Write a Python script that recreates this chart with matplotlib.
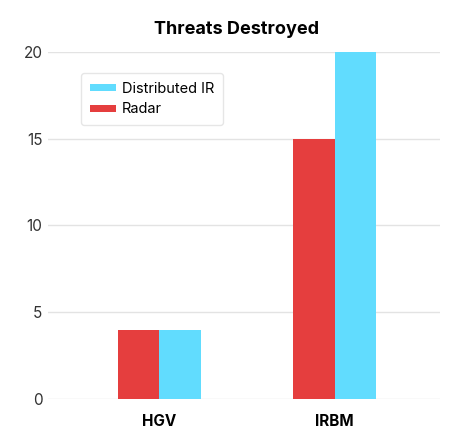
import numpy as np
import matplotlib.pyplot as plt

plt.rcParams['font.family'] = ['Inter', 'DejaVu Sans']

categories = ["HGV", "IRBM"]
radar = [4, 15]
distributed_ir = [4, 20]

red = "#e53e3e"
cyan = "#61dcfe"

fig = plt.figure(figsize=(4.53, 4.34), dpi=100)
ax = fig.add_axes([0.106, 0.0806, 0.865, 0.80])

x = np.arange(len(categories))
w = 0.236
b_radar = ax.bar(x - w / 2, radar, w, color=red, label="Radar", zorder=3)
b_ir = ax.bar(x + w / 2, distributed_ir, w, color=cyan, label="Distributed IR", zorder=3)

ax.set_xlim(-0.635, 1.6)
ax.set_ylim(0, 20)
ax.set_yticks([0, 5, 10, 15, 20])
ax.set_xticks(x)
ax.set_xticklabels(categories, fontweight="bold", fontsize=11)
ax.tick_params(axis="y", length=0, pad=4, labelsize=11, labelcolor="#333333")
ax.tick_params(axis="x", length=0, pad=11)
ax.yaxis.grid(True, color="#e3e3e3", linewidth=1, zorder=0)
for s in ax.spines.values():
    s.set_visible(False)

ax.set_title("Threats Destroyed", fontweight="bold", fontsize=13, pad=13, x=0.48)

ax.legend(handles=[b_ir, b_radar], loc="upper left", bbox_to_anchor=(0.065, 0.96),
          fontsize=10.5, frameon=True, edgecolor="#e0e0e0", fancybox=True,
          handlelength=1.8, handleheight=0.35, handletextpad=0.4,
          labelspacing=0.45, borderpad=0.6)

plt.savefig("out.png", dpi=100)
